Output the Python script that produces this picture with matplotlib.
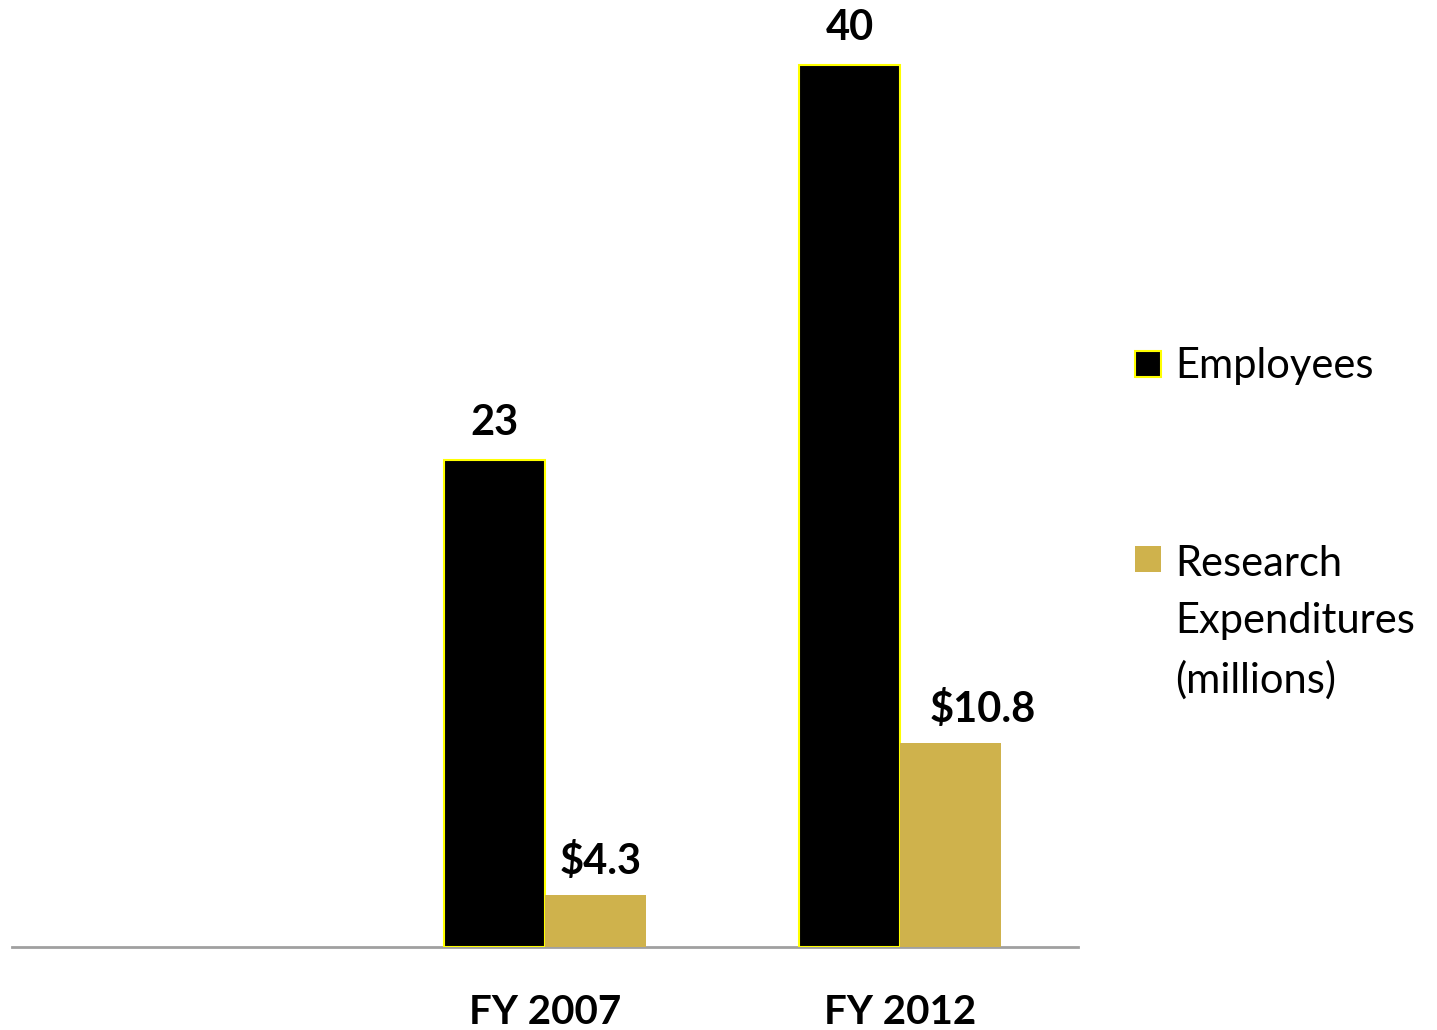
import matplotlib
matplotlib.use("Agg")
import matplotlib.pyplot as plt
from matplotlib.patches import Rectangle

# ---- data ----
categories = ["", "FY 2007", "FY 2012"]
# bar heights as drawn (in the chart's units)
employee_heights = [None, 22.1, 40]
employee_labels = ["", "23", "40"]
research_heights = [None, 2.36, 9.25]
research_labels = ["", "$4.3", "$10.8"]
legend_labels = ["Employees", "Research\nExpenditures\n(millions)"]

BLACK = "#000000"
TAN = "#CFB24C"
EDGE = "#FFFF00"

W, H = 1437, 1030
fig = plt.figure(figsize=(W / 100, H / 100), dpi=100)
ax = fig.add_axes([12 / W, 83 / H, 1066 / W, 947 / H])

xs = list(range(len(categories)))
bw = 0.284
FONT = "Lato"
research_label_dx = [0, 4, 23]  # points, horizontal nudge of the research labels

for i, x in enumerate(xs):
    if employee_heights[i] is not None:
        ax.bar(x - bw / 2, employee_heights[i], width=bw, color=BLACK, edgecolor=EDGE, linewidth=1.5, zorder=3)
        ax.annotate(employee_labels[i], (x - bw / 2, employee_heights[i]), xytext=(0, 18),
                    textcoords="offset points", ha="center", va="baseline",
                    fontsize=30, fontweight="bold", family=FONT)
    if research_heights[i] is not None:
        ax.bar(x + bw / 2, research_heights[i], width=bw, color=TAN, edgecolor="none", zorder=3)
        ax.annotate(research_labels[i], (x + bw / 2, research_heights[i]),
                    xytext=(research_label_dx[i], 15),
                    textcoords="offset points", ha="center", va="baseline",
                    fontsize=30, fontweight="bold", family=FONT)

ax.set_xlim(-0.5, len(categories) - 0.5)
ax.set_ylim(0, 947 / 22.05)
ax.set_xticks(xs)
ax.set_xticklabels(categories, fontsize=29, fontweight="bold", family=FONT)
ax.tick_params(axis="x", length=0, pad=34)
ax.set_yticks([])
for s in ["top", "right", "left"]:
    ax.spines[s].set_visible(False)
ax.spines["bottom"].set_color("#A0A0A0")
ax.spines["bottom"].set_linewidth(2)
ax.patch.set_alpha(0)

# ---- legend (manual) ----
sq = 26
fig.patches.append(Rectangle((1135 / W, (H - 377) / H), sq / W, sq / H, transform=fig.transFigure,
                             facecolor=BLACK, edgecolor=EDGE, linewidth=1.5))
fig.patches.append(Rectangle((1135 / W, (H - 572) / H), sq / W, sq / H, transform=fig.transFigure,
                             facecolor=TAN, edgecolor="none"))
fig.text(1175 / W, (H - 378) / H, legend_labels[0], fontsize=30, family=FONT, va="baseline", ha="left")
fig.text(1175 / W, (H - 545) / H, legend_labels[1], fontsize=30, family=FONT, va="top", ha="left",
         linespacing=1.62)

fig.savefig("out.png", dpi=100)
